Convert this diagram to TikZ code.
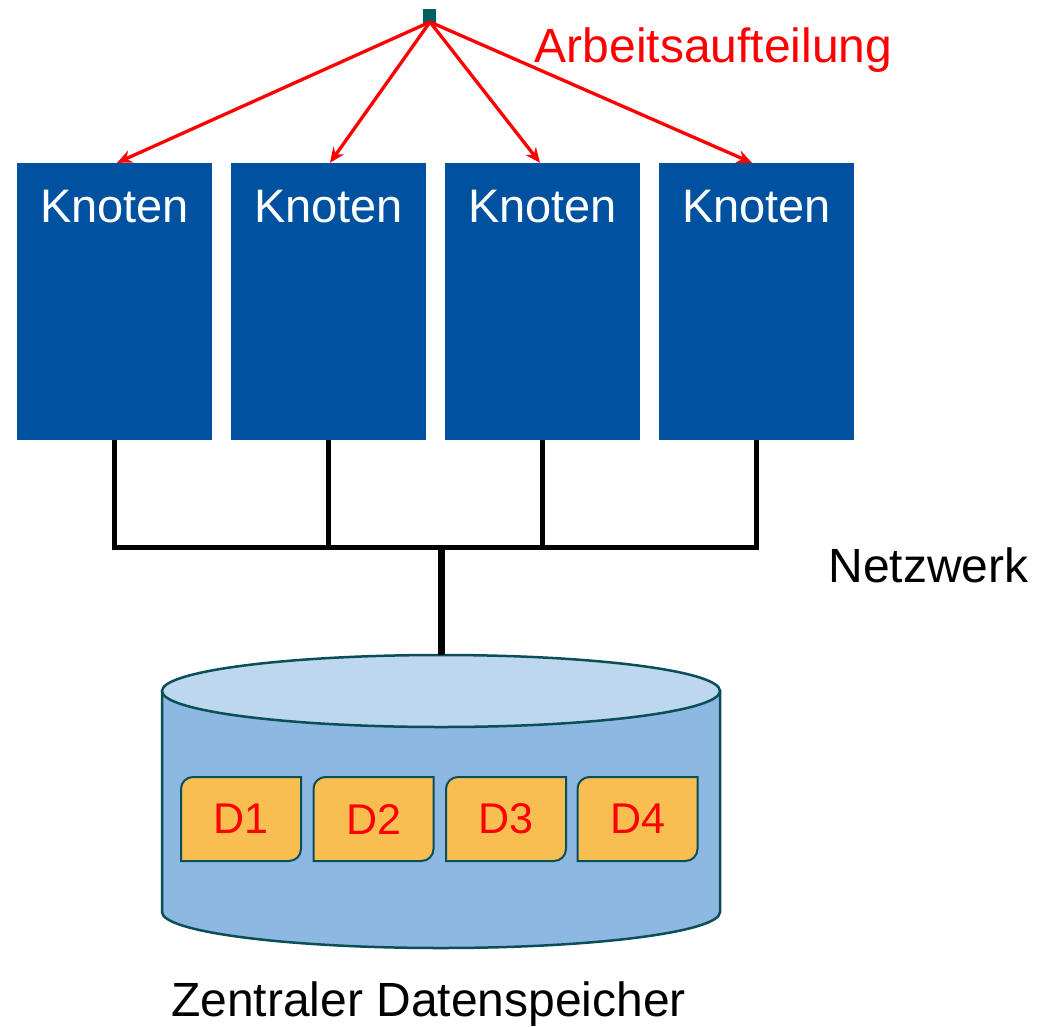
\documentclass[tikz,border=0pt]{standalone}
\usepackage{fontspec}
\setmainfont{Liberation Sans}
\usetikzlibrary{arrows.meta,calc}
\definecolor{knotblue}{RGB}{0,82,160}
\definecolor{cylside}{RGB}{141,184,226}
\definecolor{cyltop}{RGB}{188,215,238}
\definecolor{tealline}{RGB}{10,78,88}
\definecolor{dfill}{RGB}{249,190,82}
\definecolor{topsq}{RGB}{0,96,96}
\tikzset{
  knoten/.style={fill=knotblue, draw=none, minimum width=195pt, minimum height=277pt, inner sep=0pt},
  ktext/.style={text=white, font=\fontsize{47}{50}\selectfont, anchor=base, inner sep=0pt},
  redarrow/.style={draw=red, line width=3.3pt, -{Stealth[length=15pt,width=13pt]}},
  netline/.style={draw=black, line width=5pt},
  dnode/.style={text=red, font=\fontsize{43}{46}\selectfont, minimum width=120pt, minimum height=84pt, inner sep=0pt},
  dshape/.style={fill=dfill, draw=tealline, line width=2pt},
  label/.style={font=\fontsize{48}{52}\selectfont, anchor=base, inner sep=0pt}
}
\begin{document}
\begin{tikzpicture}[x=1pt,y=-1pt]
\useasboundingbox (0,0) rectangle (1047,1026);
% top distribution point
\node[fill=topsq, minimum width=13pt, minimum height=14pt, inner sep=0pt] (src) at (429.5,16) {};
\coordinate (srcpt) at (430,22);
% Knoten
\foreach \i/\x in {1/114.5,2/328.5,3/542.5,4/756.5}{
  \node[knoten] (k\i) at (\x,301.5) {};
  \node[ktext] (kt\i) at (\x,222) {Knoten};
}
% red arrows
\foreach \i/\dx in {1/2.5,2/1.5,3/-2.5,4/-4.5}{
  \draw[redarrow] (srcpt) -- ([xshift=\dx pt]k\i.north);
}
\node[label, text=red] (arb) at (713.5,62) {Arbeitsaufteilung};
% network
\coordinate (bus) at (441,547);
\foreach \i in {1,2,3,4}{
  \draw[netline] (k\i.south) -- (k\i.south |- bus);
}
\draw[netline, line cap=rect] (k1.south |- bus) -- (k4.south |- bus);
\node[label] (netz) at (928.5,582) {Netzwerk};
% cylinder
\coordinate (cyltopc) at (441,691);
\draw[fill=cylside, draw=tealline, line width=2.5pt]
  (162,691) -- (162,912) arc[start angle=180, end angle=360, x radius=279pt, y radius=36pt]
  -- (720,691) -- cycle;
\draw[fill=cyltop, draw=tealline, line width=2.5pt] (cyltopc) ellipse[x radius=279pt, y radius=36pt];
\draw[line width=7pt] (bus) -- ($(cyltopc)+(0,-36)$);
% data blocks
\foreach \i/\x in {1/241,2/373.5,3/506,4/637.5}{
  \draw[dshape] (\x-60,777+12) arc[start angle=180, end angle=90, radius=12pt]
     -- (\x+60,777) -- (\x+60,861-12) arc[start angle=0, end angle=-90, radius=12pt]
     -- (\x-60,861) -- cycle;
  \node[dnode] (d\i) at (\x,819) {D\i};
}
\node[label] (zds) at (428.5,1016) {Zentraler Datenspeicher};
\end{tikzpicture}
\end{document}
